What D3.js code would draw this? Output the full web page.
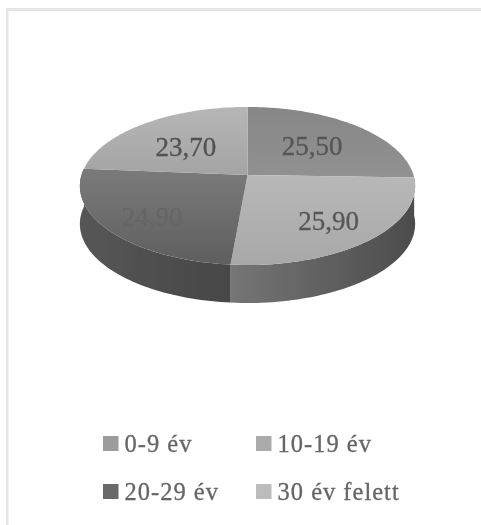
<!DOCTYPE html>
<html><head><meta charset="utf-8">
<script src="https://cdn.jsdelivr.net/npm/d3@7"></script>
<style>html,body{margin:0;padding:0;background:#fff;overflow:hidden}svg{display:block}text{font-family:"Liberation Serif",serif}</style>
</head><body><svg id="c" width="481" height="525"></svg>
<script>
const categories = ["0-9 év","10-19 év","20-29 év","30 év felett"];
const values = [25.5,25.9,24.9,23.7];
const valueLabels = ["25,50","25,90","24,90","23,70"];

const topTones = [["#878787","#919191"],["#b8b8b8","#a8a8a8"],["#7a7a7a","#5f5f5f"],["#b6b6b6","#a4a4a4"]];
const swatchTones = ["#9c9c9c","#ababab","#6b6b6b","#bcbcbc"];
const labelTones = ["#565656","#585858","#666666","#525252"];
const labelNudge = [[-5,3],[8,8],[-12,9],[4,5]];

const W=481,H=525,cx=247.5,cy=175,sx=166,sy=77.5,k=0.139,depth=38;
const svg=d3.select("#c");
const defs=svg.append("defs");
const blur=defs.append("filter").attr("id","soft").attr("x","-5%").attr("y","-5%").attr("width","110%").attr("height","110%");
blur.append("feGaussianBlur").attr("stdDeviation",0.7);

function grad(id,c1,c2,x2,y2){
  const g=defs.append("linearGradient").attr("id",id).attr("x1",0).attr("y1",0).attr("x2",x2).attr("y2",y2);
  g.append("stop").attr("offset",0).attr("stop-color",c1);
  g.append("stop").attr("offset",1).attr("stop-color",c2);
}
topTones.forEach((t,i)=>grad("t"+i,t[0],t[1],0,1));
grad("wallR","#757575","#4c4c4c",1,0);
grad("wallL","#565656","#474747",1,0);

// perspective projection of the unit disc (angle clockwise from top)
function proj(r,a){
  const x=r*Math.sin(a),y=r*Math.cos(a),w=1+k*y;
  return [cx+sx*x/w,cy-sy*y/w];
}
const arcs=d3.pie().sort(null).value(d=>d)(values);
const line=d3.line();
const samples=(a0,a1)=>d3.range(0,61).map(i=>a0+(a1-a0)*i/60);

const g=svg.append("g").attr("filter","url(#soft)");

// frame
svg.insert("rect","g").attr("x",6).attr("y",8).attr("width",W-6).attr("height",3).attr("fill","#e6e6e6");
svg.insert("rect","g").attr("x",6).attr("y",8).attr("width",2.5).attr("height",H-8).attr("fill","#e6e6e6");

// walls of the two front slices
[[1,"wallR"],[2,"wallL"]].forEach(([i,f])=>{
  const pts=samples(arcs[i].startAngle,arcs[i].endAngle).map(a=>proj(1,a));
  const low=pts.map(p=>[p[0],p[1]+depth]).reverse();
  g.append("path").attr("d",line(pts.concat(low))+"Z").attr("fill",`url(#${f})`);
});
// top faces
arcs.forEach((d,i)=>{
  const pts=[[cx,cy]].concat(samples(d.startAngle,d.endAngle).map(a=>proj(1,a)));
  g.append("path").attr("d",line(pts)+"Z").attr("fill",`url(#t${i})`);
});
// value labels
arcs.forEach((d,i)=>{
  const p=proj(0.62,(d.startAngle+d.endAngle)/2);
  g.append("text").attr("x",p[0]+labelNudge[i][0]).attr("y",p[1]+labelNudge[i][1]+9)
   .attr("text-anchor","middle").attr("font-size",27)
   .attr("fill",labelTones[i]).attr("stroke",labelTones[i]).attr("stroke-width",0.35).text(valueLabels[i]);
});
// legend
const col=d3.scalePoint().domain([0,1]).range([103,256]);
const row=d3.scalePoint().domain([0,1]).range([436,484]);
categories.forEach((c,i)=>{
  const x=col(i%2),y=row(Math.floor(i/2));
  g.append("rect").attr("x",x).attr("y",y).attr("width",15.5).attr("height",15).attr("fill",swatchTones[i]);
  g.append("text").attr("x",x+21.5).attr("y",y+16).attr("font-size",24.5).attr("letter-spacing",1)
   .attr("fill","#666666").attr("stroke","#666666").attr("stroke-width",0.3).text(c);
});
</script></body></html>
